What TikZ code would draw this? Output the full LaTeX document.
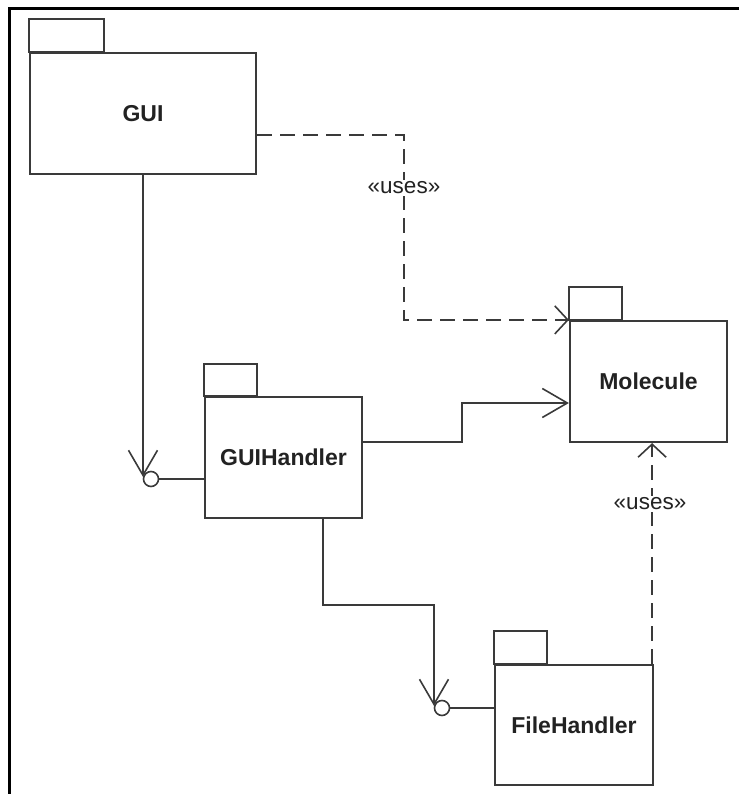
\documentclass[tikz,border=0pt]{standalone}
\usepackage{fontspec}
\setmainfont{Liberation Sans}
\usetikzlibrary{arrows.meta,calc}
\definecolor{ln}{HTML}{3A3A3A}
\definecolor{tx}{HTML}{222222}
\tikzset{
  pkg/.style={draw=ln, line width=2.2pt, fill=white, inner sep=0pt, text=tx,
    font=\fontsize{23}{27}\selectfont\bfseries},
  tab/.style={draw=ln, line width=2.2pt},
  conn/.style={draw=ln, line width=2.2pt},
  longtip/.style={-{Straight Barb[length=25pt,width=29pt,line width=1.6pt]}},
  shorttip/.style={-{Straight Barb[length=13pt,width=28pt,line width=1.6pt]}},
  dep/.style={conn, dash pattern=on 15pt off 8pt},
  lbl/.style={fill=white, text=tx, inner sep=2pt, font=\fontsize{22.5}{26}\selectfont},
  ball/.style={circle, draw=ln, line width=1.6pt, fill=white, minimum size=15pt, inner sep=0pt}
}
\begin{document}
\begin{tikzpicture}[x=1pt,y=-1pt]
\useasboundingbox (0,0) rectangle (739,794);
% frame
\draw[line width=3pt, black] (739,9) -- (9,9) -- (9,794);

% packages
\node[pkg, minimum width=226pt, minimum height=121pt] (GUI) at (143,113.5) {GUI};
\draw[tab] (GUI.north west) rectangle ++(75,-33);
\node[pkg, minimum width=157pt, minimum height=121pt] (GH) at (283.5,457.5) {GUIHandler};
\draw[tab] (GH.north west) rectangle ++(53,-32);
\node[pkg, minimum width=157pt, minimum height=121pt] (MOL) at (648.5,381.5) {Molecule};
\draw[tab] (MOL.north west) rectangle ++(53,-33);
\node[pkg, minimum width=158pt, minimum height=120pt] (FH) at (574,725) {FileHandler};
\draw[tab] (FH.north west) rectangle ++(53,-33);

% lollipop balls
\node[ball] (b1) at (151,479) {};
\node[ball] (b2) at (442,708) {};
\draw[conn, line width=1.6pt] (b1.east) -- (b1.east -| GH.west);
\draw[conn, line width=1.6pt] (b2.east) -- (b2.east -| FH.west);

% GUI -> Molecule (uses)
\coordinate (g1) at ([yshift=-21.5pt]GUI.east);
\coordinate (g2) at (404,135);
\draw[dep, shorttip] (g1) -- (g2) -- (g2 |- MOL.north west) -- (MOL.north west);
\node[lbl] (u1) at (404,188) {«uses»};

% GUI -> GUIHandler ball
\draw[conn, longtip] (GUI.south -| b1.165) -- (b1.165);

% GUIHandler -> Molecule
\coordinate (h1) at ([yshift=15.5pt]GH.east);
\coordinate (m1) at ([yshift=-21.5pt]MOL.west);
\draw[conn, longtip] (h1) -- (462,0 |- h1) -- (462,0 |- m1) -- (m1);

% GUIHandler -> FileHandler ball
\coordinate (h2) at ([xshift=39.5pt]GH.south);
\draw[conn, longtip] (h2) -- (h2 |- 0,605) -- (b2.165 |- 0,605) -- (b2.165);

% FileHandler -> Molecule (uses)
\coordinate (f1) at ([xshift=-2pt]FH.north east);
\draw[dep, shorttip] (f1) -- (f1 |- MOL.south);
\node[lbl] (u2) at (650,504) {«uses»};
\end{tikzpicture}
\end{document}
